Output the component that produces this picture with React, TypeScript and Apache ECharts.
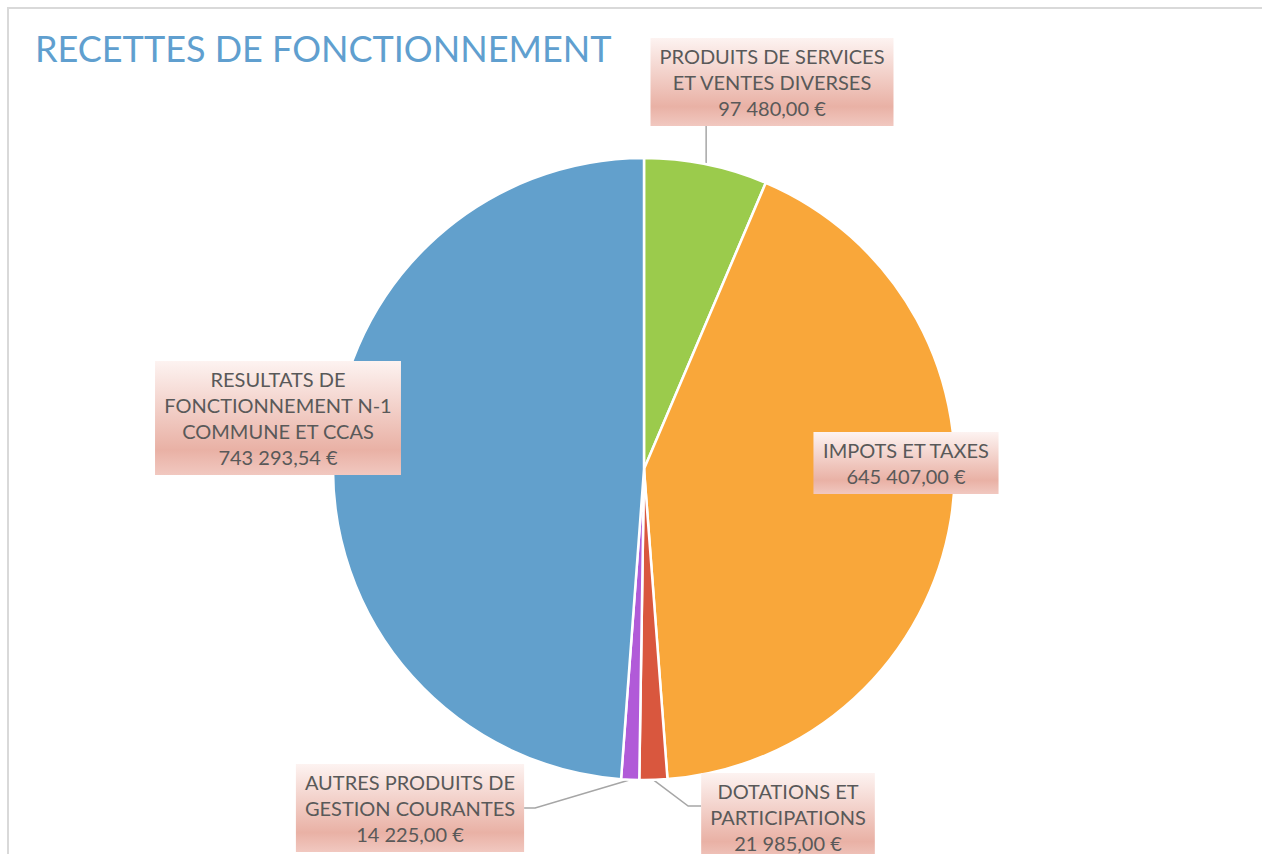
import React, { useEffect, useRef } from "react";
import * as echarts from "echarts";

const title = "RECETTES DE FONCTIONNEMENT";
const categories = [
  "PRODUITS DE SERVICES\nET VENTES DIVERSES",
  "IMPOTS ET TAXES",
  "DOTATIONS ET\nPARTICIPATIONS",
  "AUTRES PRODUITS DE\nGESTION COURANTES",
  "RESULTATS DE\nFONCTIONNEMENT N-1\nCOMMUNE ET CCAS",
];
const values = [97480, 645407, 21985, 14225, 743293.54];
const colors = ["#9BCB4C", "#F9A73A", "#D9573E", "#B15AD8", "#62A0CC"];

// label box centres in px (layout only)
const labelCenters = [
  [772, 82],
  [906, 463],
  [788, 817],
  [410, 808],
  [278, 418],
];
const showLine = [true, false, true, true, false];

function fmt(v: number): string {
  const [i, d] = v.toFixed(2).split(".");
  const g = i.replace(/\B(?=(\d{3})+(?!\d))/g, " ");
  return g + "," + d + " €";
}

export default function App() {
  const ref = useRef<HTMLDivElement>(null);
  useEffect(() => {
    if (!ref.current) return;
    const chart = echarts.init(ref.current, undefined, { renderer: "svg" });
    const labelBg = new echarts.graphic.LinearGradient(0, 0, 0, 1, [
      { offset: 0, color: "#fdf3f1" },
      { offset: 0.78, color: "#e9b1a5" },
      { offset: 1, color: "#f1c8c0" },
    ]);
    chart.setOption({
      animation: false,
      title: {
        text: title,
        left: 30,
        top: 25,
        textStyle: {
          fontFamily: "Lato",
          fontWeight: "normal",
          fontSize: 36,
          color: "#609FCF",
        },
      },
      series: [
        {
          type: "pie",
          center: [644, 469],
          radius: 311,
          startAngle: 90,
          clockwise: true,
          avoidLabelOverlap: false,
          emphasis: { disabled: true },
          itemStyle: { borderColor: "#ffffff", borderWidth: 2.5 },
          data: categories.map((c, i) => ({
            name: c,
            value: values[i],
            itemStyle: { color: colors[i] },
            labelLine: { show: showLine[i] },
          })),
          label: {
            show: true,
            position: "outside",
            formatter: (p: any) => p.name + "\n" + fmt(p.value),
            fontFamily: "Lato",
            fontSize: 20,
            lineHeight: 26,
            color: "#595959",
            align: "center",
            backgroundColor: labelBg,
            padding: [5, 9, 5, 9],
          },
          labelLine: {
            show: true,
            lineStyle: { color: "#a6a6a6", width: 1.5 },
          },
          labelLayout: (p: any) => {
            const i = p.dataIndex;
            const [cx, cy] = labelCenters[i];
            const w = p.labelRect.width;
            const h = p.labelRect.height;
            const res: any = { x: cx, y: cy, align: "center", verticalAlign: "middle" };
            if (showLine[i] && p.labelLinePoints) {
              const s = p.labelLinePoints[0];
              if (i === 0) {
                const ey = cy + h / 2;
                res.labelLinePoints = [s, [s[0], (s[1] + ey) / 2], [s[0], ey]];
              } else if (i === 2) {
                const ex = cx - w / 2;
                const ey = cy - h / 2 + 33;
                res.labelLinePoints = [s, [ex - 13, ey], [ex, ey]];
              } else if (i === 3) {
                const ex = cx + w / 2;
                const ey = cy;
                res.labelLinePoints = [s, [ex + 11, ey], [ex, ey]];
              }
            }
            return res;
          },
        },
      ],
    });
    return () => chart.dispose();
  }, []);

  return (
    <div
      style={{
        position: "fixed",
        left: 0,
        top: 0,
        width: 1262,
        height: 854,
        background: "#ffffff",
        overflow: "hidden",
      }}
    >
      <div
        style={{
          position: "absolute",
          left: 7,
          top: 7,
          width: 1300,
          height: 900,
          borderTop: "2px solid #d9d9d9",
          borderLeft: "2px solid #d9d9d9",
        }}
      />
      <div ref={ref} style={{ position: "absolute", left: 0, top: 0, width: 1262, height: 854 }} />
    </div>
  );
}
